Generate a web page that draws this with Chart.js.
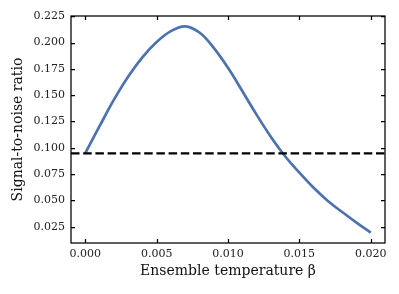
<!DOCTYPE html>
<html>
<head>
<meta charset="utf-8">
<script src="https://cdn.jsdelivr.net/npm/chart.js@4.4.1/dist/chart.umd.min.js"></script>
<style>
  html, body { margin: 0; padding: 0; background: #fff; }
  #wrap { width: 399px; height: 294px; }
</style>
</head>
<body>
<div id="wrap"><canvas id="snr" width="399" height="294"></canvas></div>
<script>
// --- data ---
const beta = [0, 0.001, 0.002, 0.003, 0.004, 0.005, 0.006, 0.007, 0.008, 0.009, 0.010,
              0.011, 0.012, 0.013, 0.014, 0.015, 0.016, 0.017, 0.018, 0.019, 0.020];
const snr  = [0.095, 0.1205, 0.1455, 0.1675, 0.186, 0.2005, 0.2108, 0.2154, 0.2095, 0.195, 0.176,
              0.154, 0.1315, 0.1105, 0.092, 0.0765, 0.062, 0.0495, 0.039, 0.029, 0.0195];
const baseline = 0.0948;

const xTicks = [0, 0.005, 0.010, 0.015, 0.020];
const yTicks = [0.025, 0.050, 0.075, 0.100, 0.125, 0.150, 0.175, 0.200, 0.225];
const xRange = [-0.001, 0.021];
const yRange = [0.0096, 0.2252];

const serif = "'DejaVu Serif', 'Liberation Serif', serif";

// frame box + inward ticks on all four sides (matplotlib style)
const frameTicks = {
    id: 'frameTicks',
    afterDatasetsDraw(chart) {
        const { ctx, chartArea: a, scales: { x, y } } = chart;
        const len = 4;
        ctx.save();
        ctx.strokeStyle = '#000';
        ctx.lineWidth = 1.25;
        ctx.strokeRect(a.left, a.top, a.right - a.left, a.bottom - a.top);
        ctx.beginPath();
        xTicks.forEach(v => {
            const px = Math.round(x.getPixelForValue(v)) + 0.5;
            ctx.moveTo(px, a.bottom); ctx.lineTo(px, a.bottom - len);
            ctx.moveTo(px, a.top);    ctx.lineTo(px, a.top + len);
        });
        yTicks.forEach(v => {
            const py = Math.round(y.getPixelForValue(v)) + 0.5;
            ctx.moveTo(a.left, py);  ctx.lineTo(a.left + len, py);
            ctx.moveTo(a.right, py); ctx.lineTo(a.right - len, py);
        });
        ctx.stroke();
        ctx.restore();
    }
};

new Chart(document.getElementById('snr').getContext('2d'), {
    type: 'line',
    data: {
        datasets: [
            {
                label: 'baseline',
                data: xRange.map(v => ({ x: v, y: baseline })),
                borderColor: '#000',
                borderWidth: 2.3,
                borderDash: [8.5, 3.7],
                pointRadius: 0,
                fill: false,
            },
            {
                label: 'SNR',
                data: beta.map((b, i) => ({ x: b, y: snr[i] })),
                borderColor: '#4C72B0',
                borderWidth: 2.7,
                pointRadius: 0,
                tension: 0.4,
                fill: false,
            }
        ]
    },
    options: {
        responsive: false,
        animation: false,
        devicePixelRatio: 1,
        layout: { padding: { top: 16, right: 14, left: 0, bottom: 0 } },
        plugins: { legend: { display: false }, tooltip: { enabled: false } },
        scales: {
            x: {
                type: 'linear',
                min: xRange[0], max: xRange[1],
                afterBuildTicks: s => { s.ticks = xTicks.map(v => ({ value: v })); },
                afterFit: s => { s.height = 51; },
                grid: { display: false, drawTicks: false },
                border: { display: false },
                ticks: {
                    padding: 5,
                    color: '#222',
                    font: { family: serif, size: 11 },
                    maxRotation: 0,
                    callback: v => v.toFixed(3)
                },
                title: {
                    display: true,
                    text: 'Ensemble temperature β',
                    color: '#111',
                    font: { family: serif, size: 14 },
                    padding: { top: 0, bottom: 14 }
                }
            },
            y: {
                type: 'linear',
                min: yRange[0], max: yRange[1],
                afterBuildTicks: s => { s.ticks = yTicks.map(v => ({ value: v })); },
                afterFit: s => { s.width = 71; },
                grid: { display: false, drawTicks: false },
                border: { display: false },
                ticks: {
                    padding: 6,
                    color: '#222',
                    font: { family: serif, size: 11 },
                    callback: v => v.toFixed(3)
                },
                title: {
                    display: true,
                    text: 'Signal-to-noise ratio',
                    color: '#111',
                    font: { family: serif, size: 14 },
                    padding: { top: 10, bottom: 0 }
                }
            }
        }
    },
    plugins: [frameTicks]
});
</script>
</body>
</html>
